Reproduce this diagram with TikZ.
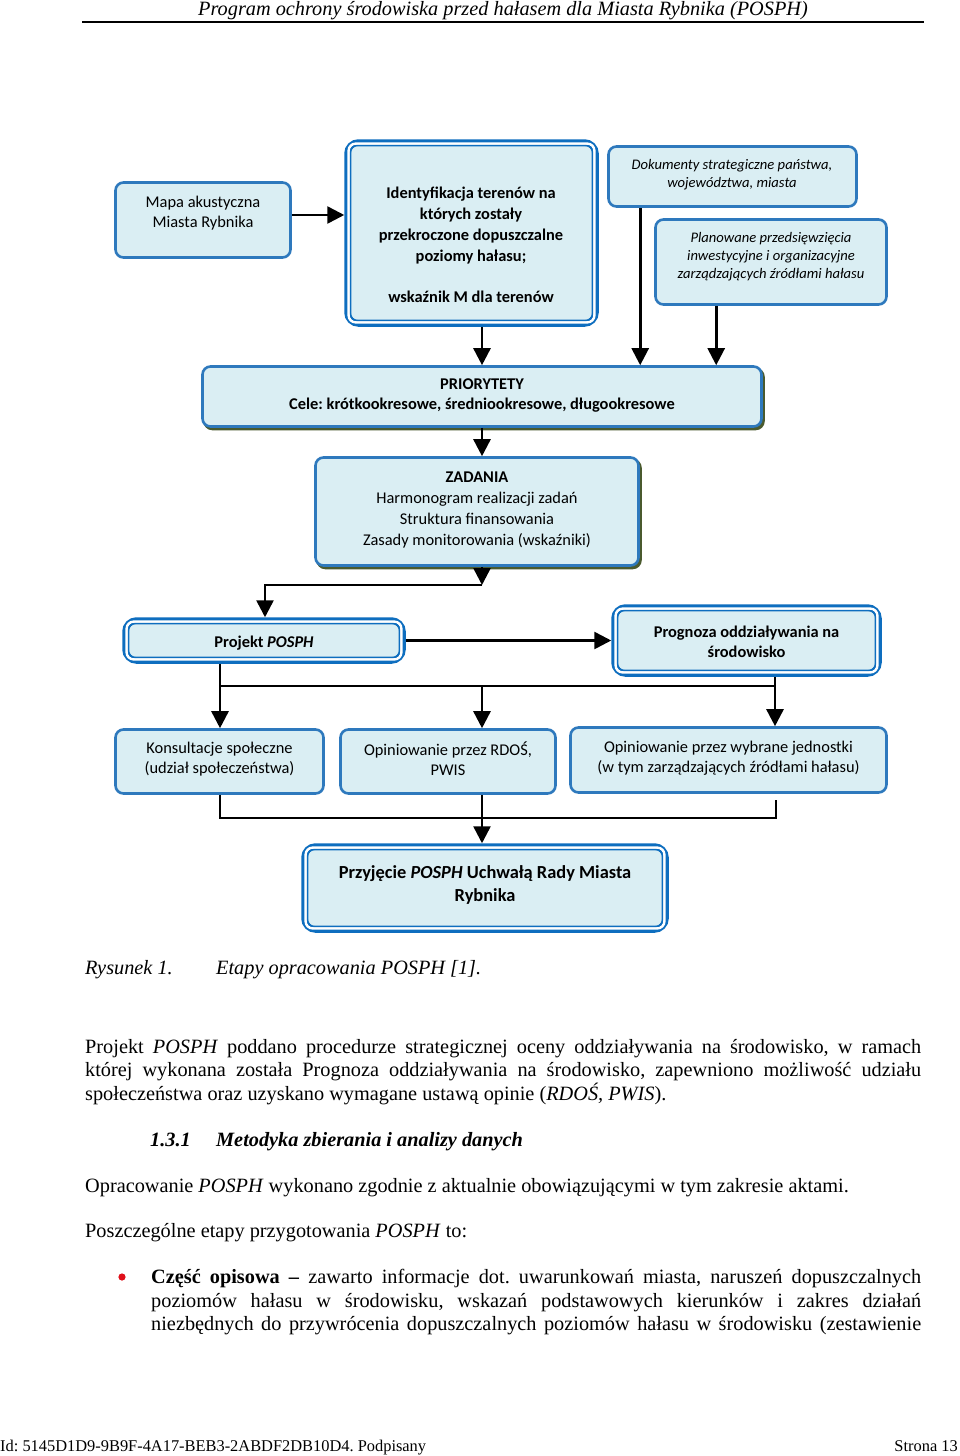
\documentclass[tikz,border=0pt]{standalone}
\usepackage{fontspec}
\setmainfont{Liberation Serif}
\newfontfamily\calib{Carlito}
\usetikzlibrary{arrows.meta,calc}
\definecolor{bblue}{HTML}{2E79BD}
\definecolor{dblue}{HTML}{0E6EBF}
\definecolor{lfill}{HTML}{DAEEF3}
\definecolor{shad}{HTML}{4A5A2E}
\definecolor{bullred}{HTML}{E0101A}
\newcommand\innerframe[1]{%
  \draw[white,line width=2.5pt,rounded corners=7pt] ([shift={(4.4,4.4)}]#1.north west) rectangle ([shift={(-4.4,-4.4)}]#1.south east);
  \draw[dblue,line width=1.4pt,rounded corners=6pt] ([shift={(6.4,6.4)}]#1.north west) rectangle ([shift={(-6.4,-6.4)}]#1.south east);}
\frenchspacing
\begin{document}
\begin{tikzpicture}[x=1pt,y=-1pt,
  box/.style={draw=bblue, line width=2.6pt, fill=lfill, rounded corners=8pt, inner sep=0pt},
  shbox/.style={box, preaction={fill=shad, draw=shad, transform canvas={shift={(2,2.5)}}}},
  dbox/.style={draw=dblue, line width=6.5pt, fill=lfill, rounded corners=11pt, inner sep=0pt},
  txt/.style={align=center, inner sep=0pt, font=\calib\fontsize{16.4}{20}\selectfont},
  itxt/.style={align=center, inner sep=0pt, font=\calib\itshape\fontsize{14.6}{18}\selectfont},
  btxt/.style={align=center, inner sep=0pt, font=\calib\bfseries\fontsize{16.4}{20}\selectfont},
  arr/.style={line width=2.6pt, -{Triangle[length=17pt,width=17pt]}},
  ln/.style={line width=2.6pt},
  body/.style={anchor=base west, inner sep=0pt, font=\fontsize{20.3}{23}\selectfont}]
\useasboundingbox (0,0) rectangle (960,1456);
\fill[white] (0,0) rectangle (960,1456);

% header
\node[anchor=base, inner sep=0pt, font=\itshape\fontsize{20.3}{23}\selectfont] (head) at (503,15) {Program ochrony środowiska przed hałasem dla Miasta Rybnika (POSPH)};
\draw[line width=2pt] (82,22) -- (924,22);

% boxes
\node[box, minimum width=175, minimum height=75] (mapa) at (203,220) {};
\node[txt] (mapat) at (203,213) {Mapa akustyczna\\Miasta Rybnika};

\node[dbox, minimum width=248, minimum height=181] (ident) at (471.5,233) {};
\innerframe{ident}
\node[btxt, font=\calib\bfseries\fontsize{16.4}{20.8}\selectfont] (identt) at (471,245) {Identyfikacja terenów na\\których zostały\\przekroczone dopuszczalne\\poziomy hałasu;\\[20.8pt]wskaźnik M dla terenów};

\node[box, minimum width=248, minimum height=60] (dok) at (732.5,176.5) {};
\node[itxt] (dokt) at (732,175) {Dokumenty strategiczne państwa,\\województwa, miasta};

\node[box, minimum width=231, minimum height=85] (plan) at (771,262) {};
\node[itxt] (plant) at (771,257) {Planowane przedsięwzięcia\\inwestycyjne i organizacyjne\\zarządzających źródłami hałasu};

\node[shbox, minimum width=559, minimum height=60] (prio) at (482,396.5) {};
\node[btxt] (priot) at (482,395.5) {PRIORYTETY\\Cele: krótkookresowe, średniookresowe, długookresowe};

\node[shbox, minimum width=323, minimum height=108] (zad) at (477,511.5) {};
\node[txt, font=\calib\fontsize{16.4}{21}\selectfont] (zadt) at (477,510) {\textbf{ZADANIA}\\Harmonogram realizacji zadań\\Struktura finansowania\\Zasady monitorowania (wskaźniki)};

\node[dbox, minimum width=277, minimum height=40] (proj) at (264,640.5) {};
\innerframe{proj}
\node[btxt] (projt) at (264,643) {Projekt \textit{POSPH}};

\node[dbox, minimum width=264, minimum height=66] (prog) at (746.5,640.5) {};
\innerframe{prog}
\node[btxt] (progt) at (746.5,642) {Prognoza oddziaływania na\\środowisko};

\node[box, minimum width=208, minimum height=64] (kon) at (219.5,761.5) {};
\node[txt] (kont) at (219.5,759) {Konsultacje społeczne\\(udział społeczeństwa)};

\node[box, minimum width=215, minimum height=64] (rdos) at (448,761.5) {};
\node[txt] (rdost) at (448,759) {Opiniowanie przez RDOŚ,\\PWIS};

\node[box, minimum width=316, minimum height=65] (wyb) at (728.5,760) {};
\node[txt] (wybt) at (728.5,758) {Opiniowanie przez wybrane jednostki\\(w tym zarządzających źródłami hałasu)};

\node[dbox, minimum width=361, minimum height=83] (przy) at (485,888) {};
\innerframe{przy}
\node[btxt, font=\calib\bfseries\fontsize{18.4}{23}\selectfont] (przyt) at (485,885) {Przyjęcie \textit{POSPH} Uchwałą Rady Miasta\\Rybnika};

% connectors
\draw[arr] (mapa.east |- 0,215) -- (ident.west |- 0,215);
\draw[arr] (ident.south -| prio.north) -- (prio.north);
\coordinate (dk) at ([xshift=33pt]dok.south west);
\draw[arr] (dk) -- (dk |- prio.north);
\coordinate (pl) at ([xshift=62pt]plan.south west);
\draw[arr] (pl) -- (pl |- prio.north);
\draw[arr] (prio.south -| 482,0) -- (zad.north -| 482,0);
\coordinate (j1) at (482,585);
\draw[arr] (zad.south -| j1) -- (j1);
\draw[arr] (j1) -| (proj.north -| 265,0);
\draw[arr] (proj) -- (prog);
\coordinate (j2) at (220,686);
\coordinate (j3) at (482,686);
\coordinate (j4) at (775,686);
\draw[arr] (proj.south -| j2) -- (kon.north -| j2);
\draw[ln] (j2) -- (j4);
\draw[arr] (prog.south -| j4) -- (wyb.north -| j4);
\draw[arr] (j3) -- (rdos.north -| j3);
\coordinate (k1) at (220,818);
\coordinate (k2) at (776,818);
\coordinate (k3) at (776,800);
\draw[ln] (kon.south -| k1) -- (k1) -- (k2) -- (k3);
\draw[arr] (rdos.south -| j3) -- (przy.north -| j3);

% caption and body text
\node[body, font=\itshape\fontsize{20.3}{23}\selectfont] (cap1) at (85,974) {Rysunek 1.};
\node[body, font=\itshape\fontsize{20.3}{23}\selectfont] (cap2) at (216,974) {Etapy opracowania POSPH [1].};

\node[body] (p1) at (85,1053) {\makebox[836pt][s]{Projekt \textit{POSPH} poddano procedurze strategicznej oceny oddziaływania na środowisko, w ramach}};
\node[body] (p2) at (85,1076) {\makebox[836pt][s]{której wykonana została Prognoza oddziaływania na środowisko, zapewniono możliwość udziału}};
\node[body] (p3) at (85,1100) {społeczeństwa oraz uzyskano wymagane ustawą opinie (\textit{RDOŚ, PWIS}).};

\node[body, font=\bfseries\itshape\fontsize{20.3}{23}\selectfont] (h1) at (150,1146) {1.3.1};
\node[body, font=\bfseries\itshape\fontsize{20.3}{23}\selectfont] (h2) at (216,1146) {Metodyka zbierania i analizy danych};

\node[body] (q1) at (85,1192) {Opracowanie \textit{POSPH} wykonano zgodnie z aktualnie obowiązującymi w tym zakresie aktami.};
\node[body] (q2) at (85,1237) {Poszczególne etapy przygotowania \textit{POSPH} to:};

\fill[bullred] (122,1277) circle (3.6);
\node[body] (b1) at (151,1283) {\makebox[770pt][s]{\textbf{Część opisowa –} zawarto informacje dot. uwarunkowań miasta, naruszeń dopuszczalnych}};
\node[body] (b2) at (151,1307) {\makebox[770pt][s]{poziomów hałasu w środowisku, wskazań podstawowych kierunków i zakres działań}};
\node[body] (b3) at (151,1330) {\makebox[770pt][s]{niezbędnych do przywrócenia dopuszczalnych poziomów hałasu w środowisku (zestawienie}};

\node[body, font=\fontsize{16.4}{20}\selectfont] (f1) at (0,1451) {Id: 5145D1D9-9B9F-4A17-BEB3-2ABDF2DB10D4. Podpisany};
\node[body, anchor=base east, font=\fontsize{16.4}{20}\selectfont] (f2) at (958,1451) {Strona 13};
\end{tikzpicture}
\end{document}
